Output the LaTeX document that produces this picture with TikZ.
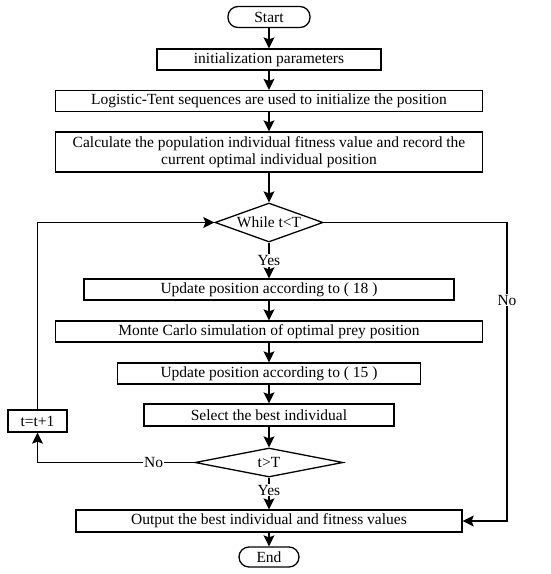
\documentclass[tikz,border=0pt]{standalone}
\usepackage{fontspec}
\setmainfont{Liberation Serif}
\usetikzlibrary{positioning,arrows.meta,shapes.geometric}
\tikzset{
  box/.style={draw,line width=1.3pt,minimum height=21pt,inner sep=1pt},
  term/.style={box,rounded corners=10pt},
  decision/.style={draw,diamond,line width=1.3pt,inner sep=0pt},
  arr/.style={line width=1.3pt,-{Stealth[length=11pt,width=11pt,inset=2pt]}},
  lbl/.style={fill=white,inner sep=1pt}
}
\begin{document}
\begin{tikzpicture}[x=1pt,y=-1pt,font=\fontsize{15.5}{17}\selectfont]
\useasboundingbox (0,0) rectangle (550,574);
% main column
\node[term,minimum width=82pt] (start) at (269,17) {Start};
\node[box,minimum width=224pt] (init) at (269,59.5) {initialization parameters};
\node[box,minimum width=427pt] (logi) at (269,101) {Logistic-Tent sequences are used to initialize the position};
\node[box,minimum width=427pt,minimum height=40pt,align=center] (calc) at (269,152) {Calculate the population individual fitness value and record the\\current optimal individual position};
\node[decision,minimum width=108pt,minimum height=39pt,label=center:{While t<T}] (while) at (269,222.5) {};
\node[box,minimum width=370pt] (upd18) at (269,289.5) {Update position according to ( 18 )};
\node[box,minimum width=427pt] (monte) at (269,331.5) {Monte Carlo simulation of optimal prey position};
\node[box,minimum width=303pt] (upd15) at (269,373.5) {Update position according to ( 15 )};
\node[box,minimum width=250pt,minimum height=22pt] (select) at (269,415) {Select the best individual};
\node[decision,minimum width=148pt,minimum height=29pt,label=center:{t>T}] (check) at (269,462.5) {};
\node[box,minimum width=386pt,minimum height=22pt] (output) at (269,521) {Output the best individual and fitness values};
\node[term,minimum width=60pt,minimum height=20pt] (end) at (269,557) {End};
% counter box
\node[box,minimum width=59pt,minimum height=22pt] (tinc) at (37.5,421) {t=t+1};
\coordinate (rt) at (507,0);
% straight arrows
\draw[arr] (start) -- (init);
\draw[arr] (init) -- (logi);
\draw[arr] (logi) -- (calc);
\draw[arr] (calc) -- (while);
\draw[arr] (while) -- node[lbl,pos=0.5]{Yes} (upd18);
\draw[arr] (upd18) -- (monte);
\draw[arr] (monte) -- (upd15);
\draw[arr] (upd15) -- (select);
\draw[arr] (select) -- (check);
\draw[arr] (check) -- node[lbl,pos=0.4]{Yes} (output);
\draw[arr] (output) -- (end);
% loops
\draw[arr] (check.west) -| node[lbl,pos=0.13]{No} (tinc.south);
\draw[arr] (tinc.north) |- (while.west);
\draw[arr] (while.east) -| node[lbl,pos=0.63]{No} (rt |- output.east) -- (output.east);
\end{tikzpicture}
\end{document}
